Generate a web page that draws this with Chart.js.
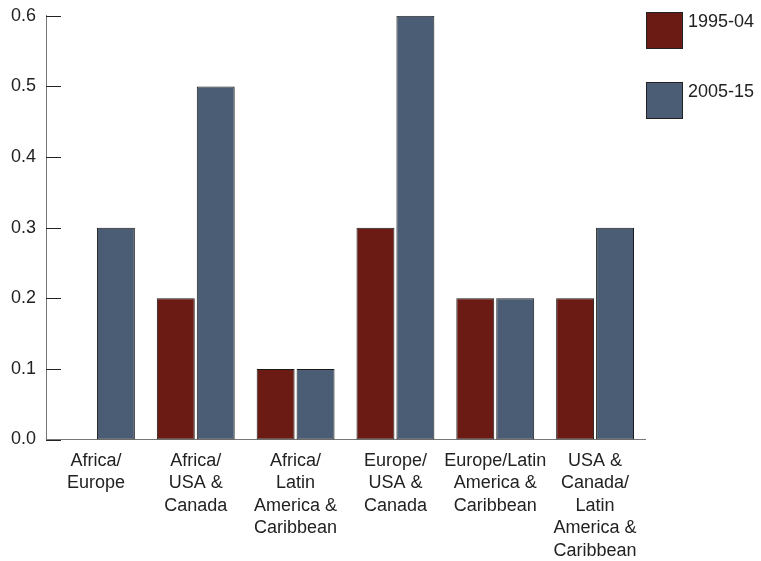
<!DOCTYPE html>
<html>
<head>
<meta charset="utf-8">
<script src="https://cdn.jsdelivr.net/npm/chart.js@4"></script>
<style>
  html, body { margin: 0; padding: 0; background: #fff; }
  #wrap { width: 761px; height: 561px; }
</style>
</head>
<body>
<div id="wrap"><canvas id="chart" width="761" height="561"></canvas></div>
<script>
// data
var categories = [
  ['Africa/', 'Europe'],
  ['Africa/', 'USA &', 'Canada'],
  ['Africa/', 'Latin', 'America &', 'Caribbean'],
  ['Europe/', 'USA &', 'Canada'],
  ['Europe/Latin', 'America &', 'Caribbean'],
  ['USA &', 'Canada/', 'Latin', 'America &', 'Caribbean']
];
var series1Label = '1995-04';
var series2Label = '2005-15';
var values1995 = [0.0, 0.2, 0.1, 0.3, 0.2, 0.2];
var values2005 = [0.3, 0.5, 0.1, 0.6, 0.2, 0.3];

var red = 'rgb(107, 27, 20)';
var blue = 'rgb(75, 93, 116)';
var fontFamily = '"Liberation Sans", Arial, sans-serif';

// inner tick marks on the y axis + square legend on the right
var extras = {
  id: 'extras',
  afterDraw: function (chart) {
    var ctx = chart.ctx, y = chart.scales.y, area = chart.chartArea;
    ctx.save();
    ctx.strokeStyle = '#222';
    ctx.lineWidth = 1;
    y.ticks.forEach(function (t) {
      var py = Math.round(y.getPixelForValue(t.value)) + 0.5;
      ctx.beginPath();
      ctx.moveTo(area.left, py);
      ctx.lineTo(area.left + 15, py);
      ctx.stroke();
    });
    // legend
    var items = chart.data.datasets;
    ctx.font = '18px ' + fontFamily;
    ctx.textBaseline = 'top';
    items.forEach(function (ds, i) {
      var x0 = area.right + 1, y0 = 12 + i * 70;
      ctx.fillStyle = ds.backgroundColor;
      ctx.fillRect(x0, y0, 37, 37);
      ctx.strokeStyle = '#222';
      ctx.strokeRect(x0 + 0.5, y0 + 0.5, 36, 36);
      ctx.fillStyle = '#222';
      ctx.fillText(ds.label, x0 + 42, y0 + 1);
    });
    ctx.restore();
  }
};

var ctx = document.getElementById('chart').getContext('2d');
var myChart = new Chart(ctx, {
  type: 'bar',
  data: {
    labels: categories,
    datasets: [
      {
        label: series1Label,
        data: values1995,
        backgroundColor: red,
        borderColor: '#1a1a1a',
        borderWidth: 1,
        borderSkipped: false,
        barPercentage: 0.95,
        categoryPercentage: 0.8
      },
      {
        label: series2Label,
        data: values2005,
        backgroundColor: blue,
        borderColor: '#1a1a1a',
        borderWidth: 1,
        borderSkipped: false,
        barPercentage: 0.95,
        categoryPercentage: 0.8
      }
    ]
  },
  options: {
    responsive: false,
    animation: false,
    layout: {
      padding: { left: 1, right: 116, top: 0, bottom: -11 }
    },
    plugins: {
      legend: { display: false },
      tooltip: { enabled: false }
    },
    scales: {
      x: {
        grid: { display: false, drawTicks: false },
        border: { color: '#777', width: 1 },
        ticks: {
          color: '#222',
          padding: 10,
          maxRotation: 0,
          autoSkip: false,
          font: { family: fontFamily, size: 18, lineHeight: 1.25 }
        }
      },
      y: {
        min: 0,
        max: 0.6,
        grid: { display: false, drawTicks: false },
        border: { color: '#777', width: 1 },
        ticks: {
          stepSize: 0.1,
          color: '#222',
          padding: 10,
          font: { family: fontFamily, size: 18, lineHeight: 0.65 },
          callback: function (v) { return v.toFixed(1); }
        }
      }
    }
  },
  plugins: [extras]
});
</script>
</body>
</html>
